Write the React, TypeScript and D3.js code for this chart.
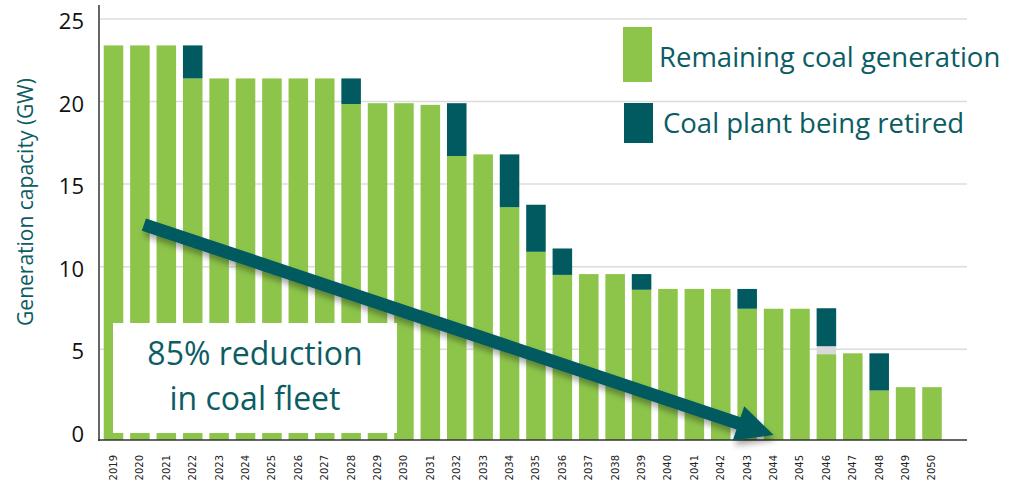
import React from "react";
import * as d3 from "d3";

const years = ["2019","2020","2021","2022","2023","2024","2025","2026","2027","2028","2029","2030","2031","2032","2033","2034","2035","2036","2037","2038","2039","2040","2041","2042","2043","2044","2045","2046","2047","2048","2049","2050"];
const remaining = [23.4,23.4,23.4,21.4,21.4,21.4,21.4,21.4,21.4,19.85,19.9,19.9,19.8,16.7,16.8,13.6,10.9,9.5,9.55,9.55,8.6,8.65,8.65,8.65,7.45,7.45,7.45,4.7,4.75,2.5,2.7,2.7];
const other = [0,0,0,0,0,0,0,0,0,0,0,0,0,0,0,0,0,0,0,0,0,0,0,0,0,0,0,0.48,0,0,0,0];
const retired = [0,0,0,2.0,0,0,0,0,0,1.55,0,0,0,3.2,0,3.2,2.85,1.6,0,0,0.95,0,0,0,1.2,0,0,2.3,0,2.25,0,0];
const yTicks = [0, 5, 10, 15, 20, 25];
const legendItems = ["Remaining coal generation", "Coal plant being retired"];
const annotationLines = ["85% reduction", "in coal fleet"];

const W = 1009, H = 483;
const GREEN = "#8dc54b";
const DARK = "#005a5f";
const GREY = "#d9d9d9";
const TEAL = "#0b5c63";

export default function App() {
  const x = d3.scaleBand<string>().domain(years).range([100.3, 945.2]).paddingInner(0.26).paddingOuter(0.13);
  const y = d3.scaleLinear().domain([-0.5, 25]).range([440, 19]);
  const yMin = y.domain()[0];

  const rows = years.map((yr, i) => ({ year: yr, remaining: remaining[i], other: other[i], retired: retired[i] }));
  const keys = ["remaining", "other", "retired"];
  const colors: Record<string, string> = { remaining: GREEN, other: GREY, retired: DARK };
  const series = d3.stack<any>().keys(keys)(rows);

  const xc = (yr: string) => (x(yr) as number) + x.bandwidth() / 2;

  // arrow annotation
  const sx = xc("2020") + 4, sy = y(12.55);
  const ex = xc("2044"), ey = y(-0.2);
  const dx = ex - sx, dy = ey - sy;
  const len = Math.hypot(dx, dy);
  const ux = dx / len, uy = dy / len;
  const nx = -uy, ny = ux;
  const hw = 6.5, HW = 18, HL = 37;
  const bx = ex - ux * HL, by = ey - uy * HL;
  const pts = [
    [sx + nx * hw, sy + ny * hw],
    [bx + nx * hw, by + ny * hw],
    [bx + nx * HW, by + ny * HW],
    [ex, ey],
    [bx - nx * HW, by - ny * HW],
    [bx - nx * hw, by - ny * hw],
    [sx - nx * hw, sy - ny * hw],
  ];

  return (
    <svg width={W} height={H} style={{ position: "absolute", left: 0, top: 0, background: "#fff" }}>
      <defs>
        <filter id="shadow" x="-20%" y="-20%" width="140%" height="160%">
          <feDropShadow dx="2" dy="5" stdDeviation="3" floodColor="#000" floodOpacity="0.35" />
        </filter>
      </defs>
      {/* gridlines */}
      {yTicks.filter(t => t > 0).map(t => (
        <line key={t} x1={100} x2={967} y1={y(t)} y2={y(t)} stroke="#dcdcdc" strokeWidth={1.5} />
      ))}
      {/* bars */}
      {series.map(s => (
        <g key={s.key} fill={colors[s.key]}>
          {s.map((d: any, i: number) => {
            const v0 = d[0] === 0 ? yMin : d[0];
            const v1 = d[1];
            if (d[1] - d[0] <= 0) return null;
            return <rect key={i} x={x(d.data.year)} width={x.bandwidth()} y={y(v1)} height={y(v0) - y(v1)} />;
          })}
        </g>
      ))}
      {/* axes */}
      <line x1={99} x2={99} y1={5} y2={441} stroke="#333" strokeWidth={1.5} />
      <line x1={98} x2={967} y1={440} y2={440} stroke="#333" strokeWidth={1.5} />
      {yTicks.map(t => (
        <text key={t} x={84} y={y(t) + 1} textAnchor="end" dominantBaseline="central"
          fontFamily="'Open Sans', sans-serif" fontSize={22} fill="#111">{t}</text>
      ))}
      {years.map(yr => (
        <text key={yr} transform={`translate(${xc(yr) + 3.5},455) rotate(-90)`} textAnchor="end"
          fontFamily="'DejaVu Sans', sans-serif" fontSize={10} fill="#222">{yr}</text>
      ))}
      <text transform={`translate(33,202) rotate(-90)`} textAnchor="middle"
        fontFamily="'Open Sans', sans-serif" fontSize={21} fill={TEAL}>Generation capacity (GW)</text>
      {/* legend */}
      <rect x={623} y={27} width={29} height={55} fill={GREEN} />
      <text x={659} y={67} fontFamily="'Open Sans', sans-serif" fontSize={27.5} fill={TEAL}>{legendItems[0]}</text>
      <rect x={624} y={103} width={29} height={40} fill={DARK} />
      <text x={663} y={133} fontFamily="'Open Sans', sans-serif" fontSize={27.5} fill={TEAL}>{legendItems[1]}</text>
      {/* annotation box */}
      <rect x={113} y={323} width={284} height={110} fill="#fff" />
      {annotationLines.map((l, i) => (
        <text key={i} x={255} y={365 + i * 45} textAnchor="middle"
          fontFamily="'Open Sans', sans-serif" fontSize={32} fill={TEAL}>{l}</text>
      ))}
      {/* arrow */}
      <polygon points={pts.map(p => p.join(",")).join(" ")} fill={DARK} filter="url(#shadow)" />
    </svg>
  );
}
